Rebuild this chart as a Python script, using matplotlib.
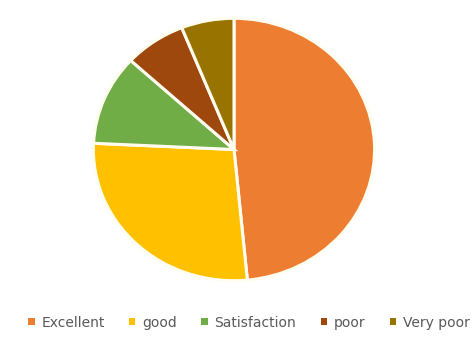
import matplotlib.pyplot as plt

labels = ['Excellent', 'good', 'Satisfaction', 'poor', 'Very poor']
values = [48, 27, 11, 7, 6]
colors = ['#ED7D31', '#FFC000', '#70AD47', '#9E480E', '#997300']

fig = plt.figure(figsize=(4.74, 3.47), dpi=100)
ax = fig.add_axes([92 / 474, 65 / 347, 284 / 474, 265 / 347])

wedges, _ = ax.pie(values, colors=colors, startangle=90, counterclock=False,
                   radius=1, wedgeprops=dict(edgecolor='#FFFDF0', linewidth=2.2))
ax.set_aspect('auto')
ax.set_xlim(-1.01, 1.01)
ax.set_ylim(-1.01, 1.01)

leg = fig.legend(wedges, labels, loc='center left', bbox_to_anchor=(0.045, 0.07), ncol=5,
                 frameon=False, fontsize=10, handlelength=0.45, handleheight=0.45,
                 handletextpad=0.5, columnspacing=1.75, labelcolor='#595959',
                 borderpad=0)
for h in leg.legend_handles:
    h.set_edgecolor('none')

plt.savefig('out.png', dpi=100)
